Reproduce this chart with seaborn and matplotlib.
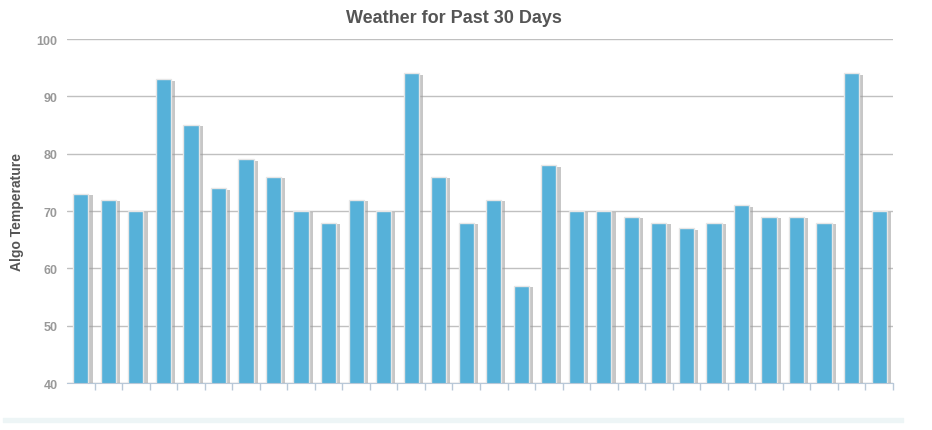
import pandas as pd
import numpy as np
import seaborn as sns
import matplotlib.pyplot as plt
import matplotlib.patheffects as pe

## daily temperatures for the last 30 days
days = list(range(1, 31))
temps = [73, 72, 70, 93, 85, 74, 79, 76, 70, 68,
         72, 70, 94, 76, 68, 72, 57, 78, 70, 70,
         69, 68, 67, 68, 71, 69, 69, 68, 94, 70]
y_ticks = [40, 50, 60, 70, 80, 90, 100]

df = pd.DataFrame({"Day": days, "Temp": temps})

sns.set_style("white")
plt.rcParams['font.family'] = ['Liberation Sans', 'DejaVu Sans']

fig = plt.figure(figsize=(9.32, 4.31), dpi=100)
ax = fig.add_axes([0.072, 0.109, 0.886, 0.798])

sns.barplot(data=df, x="Day", y="Temp", color="#56b1d9", saturation=1,
            width=0.55, ax=ax, zorder=3, edgecolor="#e6e6e6", linewidth=1)
for p in ax.patches:
    p.set_path_effects([pe.SimplePatchShadow(offset=(3, -1), shadow_rgbFace="#9a9a9a", alpha=0.55),
                        pe.Normal()])

ax.set_ylim(40, 100)
ax.set_xlim(-0.5, len(days) - 0.5)
ax.set_yticks(y_ticks)
ax.set_yticklabels([str(t) for t in y_ticks], color="#999999", fontsize=9, fontweight="bold")
ax.yaxis.grid(True, color="#c0c0c0", linewidth=1, zorder=0)
ax.tick_params(axis="y", length=0, pad=7)

# tick marks at category boundaries, no labels
ax.set_xticks(np.arange(0.5, len(days), 1))
ax.set_xticklabels([])
ax.tick_params(axis="x", bottom=True, length=5, color="#b8c8d8", width=1, direction="out")

for s in ["top", "right", "left"]:
    ax.spines[s].set_visible(False)
ax.spines["bottom"].set_color("#b8c8d8")
ax.spines["bottom"].set_zorder(4)

ax.set_xlabel("")
ax.set_ylabel("Algo Temperature", color="#555555", fontsize=10, fontweight="bold", labelpad=9)
fig.text(0.487, 0.958, "Weather for Past 30 Days", ha="center", va="center",
         color="#555555", fontsize=13, fontweight="bold")

# light band along the bottom
fig.patches.append(plt.Rectangle((3 / 932, 8 / 431), 900 / 932, 4 / 431,
                                 transform=fig.transFigure, color="#edf5f6", zorder=0))

fig.savefig("out.png", dpi=100)
